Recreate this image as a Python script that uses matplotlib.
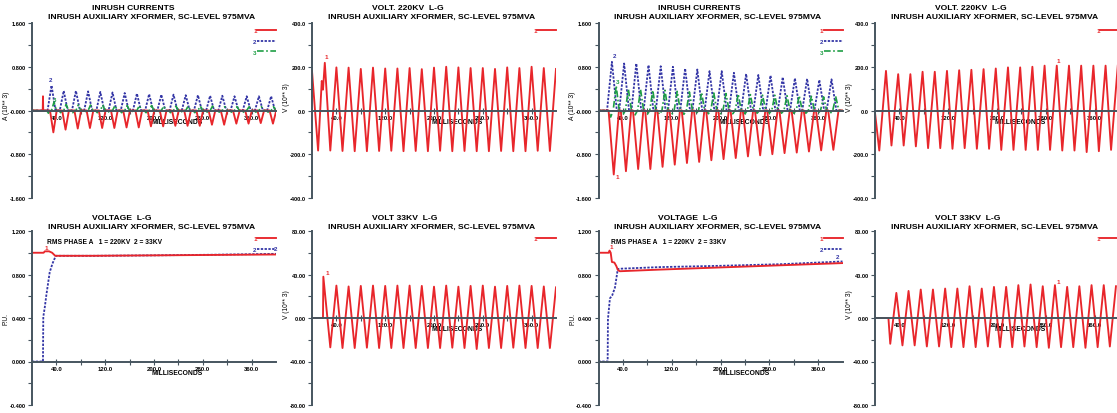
import numpy as np
import matplotlib.pyplot as plt

plt.rcParams['font.family'] = ['Liberation Sans', 'DejaVu Sans']
plt.rcParams['font.weight'] = 'bold'

RED = '#e8262b'
BLUE = '#3436a6'
GREEN = '#1f9e45'
AXC = '#46555f'

# one 50 Hz cycle every 20 ms
cycles = [0, 20, 40, 60, 80, 100, 120, 140, 160, 180,
          200, 220, 240, 260, 280, 300, 320, 340, 360, 380]

# ---- case A: inrush currents (kA), peak per cycle ----
ia_blue_ms = [32 + c for c in cycles[:19]]
ia_blue = [0.46, 0.36, 0.36, 0.35, 0.34, 0.33, 0.32, 0.31, 0.30, 0.29,
           0.29, 0.28, 0.28, 0.27, 0.27, 0.26, 0.26, 0.26, 0.26]
ia_red_ms = [35 + c for c in cycles[:19]]
ia_red = [-0.40, -0.35, -0.33, -0.32, -0.32, -0.32, -0.31, -0.31, -0.29, -0.29,
          -0.28, -0.28, -0.28, -0.26, -0.26, -0.24, -0.24, -0.23, -0.24]
ia_red_spike_ms = [17.6, 18.0, 18.4]
ia_red_spike = [0.0, 0.26, 0.0]
ia_green_ms = [36 + c for c in cycles[:19]]
ia_green = [0.15, 0.11, 0.10, 0.10, 0.10, 0.09, 0.09, 0.09, 0.09, 0.08,
            0.08, 0.08, 0.08, 0.08, 0.07, 0.07, 0.07, 0.07, 0.07]
ia_green_dip_ms = [27 + c for c in cycles[:19]]
ia_green_dip = [-0.05, -0.04, -0.04, -0.04, -0.04, -0.04, -0.04, -0.04, -0.04, -0.04,
                -0.04, -0.04, -0.04, -0.03, -0.03, -0.03, -0.03, -0.03, -0.03]

# ---- case A: 220 kV voltage (kV), extremes ----
va220_first_ms = [0, 16, 18, 21]
va220_first = [180, 135, 95, 218]
va220_pk_ms = [40 + c for c in cycles[:19]]
va220_pk = [197, 196, 190, 196, 192, 192, 194, 189, 196, 200,
            197, 194, 194, 190, 197, 194, 200, 194, 190]
va220_tr_ms = [10 + c for c in cycles]
va220_tr = [-183, -183, -185, -186, -186, -185, -184, -186, -185, -186,
            -184, -186, -185, -186, -186, -185, -186, -186, -184, -185]

# ---- case A: 33 kV voltage (kV) ----
va33_first_ms = [0, 18, 18.6]
va33_first = [0, 0, 38]
va33_pk_ms = [40 + c for c in cycles[:19]]
va33_pk = [29.8, 29.0, 29.5, 29.8, 29.5, 29.8, 29.8, 29.5, 28.8, 29.8,
           28.8, 29.5, 29.8, 28.8, 29.5, 29.8, 29.5, 29.0, 28.2]
va33_tr_ms = [30 + c for c in cycles[:19]]
va33_tr = [-27.0, -27.6, -27.6, -27.3, -27.6, -27.6, -27.6, -27.6, -27.6, -27.6,
           -27.3, -27.6, -28.5, -27.6, -27.6, -27.3, -27.6, -27.6, -27.6]

# ---- case A: RMS phase A (p.u.) ----
ra_220_ms = [0, 19, 21, 28, 33, 38, 100, 200, 300, 400]
ra_220 = [1.0, 1.0, 1.013, 1.013, 1.0, 0.972, 0.972, 0.976, 0.980, 0.984]
ra_33_ms = [0, 18, 18.5, 21, 23.5, 29, 33.5, 39, 100, 200, 300, 400]
ra_33 = [0, 0, 0.41, 0.50, 0.61, 0.82, 0.90, 0.972, 0.972, 0.976, 0.982, 0.99]

# ---- case B: inrush currents (kA) ----
ib_blue_ms = [22 + c for c in cycles[:19]]
ib_blue = [0.89, 0.86, 0.86, 0.83, 0.81, 0.80, 0.77, 0.75, 0.72, 0.72,
           0.69, 0.67, 0.65, 0.64, 0.61, 0.59, 0.58, 0.56, 0.57]
ib_red_ms = [25 + c for c in cycles[:19]]
ib_red = [-1.17, -1.11, -1.07, -1.07, -1.03, -0.99, -0.96, -0.94, -0.91, -0.89,
          -0.87, -0.84, -0.82, -0.80, -0.78, -0.77, -0.75, -0.73, -0.72]
ib_green_ms = [29 + c for c in cycles[:19]]
ib_green = [0.45, 0.39, 0.38, 0.37, 0.37, 0.35, 0.34, 0.33, 0.32, 0.31,
            0.30, 0.29, 0.28, 0.28, 0.27, 0.27, 0.26, 0.25, 0.25]
ib_green_dip_ms = [20 + c for c in cycles[:19]]
ib_green_dip = [-0.12, -0.08, -0.08, -0.07, -0.07, -0.07, -0.07, -0.06, -0.06, -0.06,
                -0.06, -0.06, -0.05, -0.05, -0.05, -0.05, -0.05, -0.05, -0.05]

# ---- case B: 220 kV voltage (kV) ----
vb220_first_ms = [0]
vb220_first = [-10]
vb220_pk_ms = [18 + c for c in cycles]
vb220_pk = [181, 166, 166, 177, 177, 181, 184, 186, 189, 192,
            197, 197, 200, 205, 205, 205, 205, 205, 205, 205]
vb220_tr_ms = [7 + c for c in cycles]
vb220_tr = [-183, -160, -160, -164, -172, -172, -175, -172, -175, -175,
            -180, -180, -180, -180, -180, -183, -183, -190, -186, -180]

# ---- case B: 33 kV voltage (kV) ----
vb33_first_ms = [0, 22]
vb33_first = [0, 0]
vb33_pk_ms = [35 + c for c in cycles[:19]]
vb33_pk = [23.1, 24.9, 26.2, 26.2, 27.1, 27.1, 29.2, 27.1, 28.6, 28.6,
           30.2, 30.8, 29.2, 30.2, 28.6, 29.2, 30.2, 30.2, 29.2]
vb33_tr_ms = [25 + c for c in cycles[:19]]
vb33_tr = [-23.7, -25.2, -25.2, -26.2, -26.2, -26.8, -26.8, -26.8, -26.2, -26.8,
           -26.8, -26.2, -26.8, -27.4, -26.8, -26.8, -27.4, -26.8, -26.2]

# ---- case B: RMS phase A (p.u.) ----
rb_220_ms = [0, 17, 18, 20, 22, 26, 29, 32, 35, 100, 200, 300, 400]
rb_220 = [1.0, 1.0, 1.02, 1.0, 0.915, 0.91, 0.88, 0.84, 0.83, 0.845, 0.865, 0.885, 0.905]
rb_33_ms = [0, 15, 15.5, 18.7, 22.6, 27, 31.6, 35, 100, 200, 300, 400]
rb_33 = [0, 0, 0.39, 0.58, 0.61, 0.68, 0.85, 0.853, 0.868, 0.88, 0.895, 0.92]

SUB = 'INRUSH AUXILIARY XFORMER, SC-LEVEL 975MVA'


def pulses(groups):
    # each pulse: leaves zero, reaches its peak, back to zero
    pts = []
    for ts, vs, w in groups:
        pts += [(tp, a, w) for tp, a in zip(ts, vs)]
    t, v = [0.0], [0.0]
    for tp, a, w in sorted(pts):
        t += [tp - w, tp, tp + w]
        v += [0.0, a, 0.0]
    t.append(400.0)
    v.append(0.0)
    return t, v


def extremes(*pairs):
    pts = sorted(p for ts, vs in pairs for p in zip(ts, vs))
    return [p[0] for p in pts], [p[1] for p in pts]


W, H = 1117, 414
AXW = 244
fig = plt.figure(figsize=(W / 100, H / 100), dpi=100)


def panel(left, top, height, ylim, step, fmt, ylabel, ylab_y, line1):
    ax = fig.add_axes([left / W, 1 - (top + height) / H, AXW / W, height / H])
    ax.patch.set_visible(False)
    ax.set_xlim(0, 400)
    ax.set_ylim(*ylim)
    for s in ['top', 'right']:
        ax.spines[s].set_visible(False)
    ax.spines['bottom'].set_position(('data', 0))
    for s in ['bottom', 'left']:
        ax.spines[s].set_color(AXC)
        ax.spines[s].set_linewidth(1.4)
        ax.spines[s].set_zorder(5)
    xt = list(range(40, 361, 40))
    ax.set_xticks(xt)
    ax.set_xticklabels([f'{x:.1f}' if x % 80 == 40 else '' for x in xt])
    yt = np.arange(ylim[0], ylim[1] + step / 2, step)
    ax.set_yticks(yt)
    ax.set_yticklabels([fmt.format(y + 0.0) if i % 2 == 0 else '' for i, y in enumerate(yt)])
    ax.tick_params(axis='x', direction='inout', length=4.5, width=0.8, color=AXC,
                   pad=0.8, labelsize=4.3)
    ax.tick_params(axis='y', direction='out', length=3, width=0.8, color=AXC,
                   pad=1.5, labelsize=4.1)
    ax.set_ylabel(ylabel, fontsize=4.8)
    ax.yaxis.set_label_coords(-22 / AXW, ylab_y)
    ax.annotate('MILLISECONDS', xy=(238, 0), xytext=(0, -7.8), textcoords='offset points',
                ha='center', va='center', fontsize=4.9)
    dy = 15.7 if top < 100 else 13.7
    ax.annotate(line1, xy=(0, 1), xycoords='axes fraction', xytext=(60 * 0.72, dy * 0.72),
                textcoords='offset points', ha='left', va='center', fontsize=6.1)
    ax.annotate(SUB, xy=(0, 1), xycoords='axes fraction', xytext=(16 * 0.72, (dy - 9) * 0.72),
                textcoords='offset points', ha='left', va='center', fontsize=6.1)
    return ax


def legend(ax, handles, labels):
    ax.legend(handles, labels, loc='upper right', bbox_to_anchor=(1.0, 0.972), frameon=False,
              markerfirst=False, fontsize=4.5, handlelength=3.0, handletextpad=0.1,
              labelspacing=0.85, borderpad=0, borderaxespad=0, labelcolor='linecolor')


def lbl(ax, x, y, s, c):
    ax.text(x, y, s, color=c, fontsize=4.5, ha='center', va='center')


red_kw = dict(color=RED, lw=1.35, zorder=4, solid_joinstyle='round')
blue_kw = dict(color=BLUE, lw=1.3, ls=(0, (1.3, 0.8)), zorder=3)
green_kw = dict(color=GREEN, lw=1.2, ls=(0, (4, 1.5, 1, 1.5)), zorder=3)

cols = [32, 312, 598.5, 875]
TOP1, H1 = 24, 175
TOP2, H2 = 232, 174

# column 1 top: currents case A
ax = panel(cols[0], TOP1, H1, (-1.6, 1.6), 0.4, '{:.3f}', 'A (10** 3)', 0.53, 'INRUSH CURRENTS')
t, v = pulses([(ia_red_ms, ia_red, 5.5)])
r, = ax.plot([0.0] + ia_red_spike_ms + t[1:], [0.0] + ia_red_spike + v[1:], **red_kw)
b, = ax.plot(*pulses([(ia_blue_ms, ia_blue, 6.5)]), **blue_kw)
g, = ax.plot(*pulses([(ia_green_ms, ia_green, 4), (ia_green_dip_ms, ia_green_dip, 3)]), **green_kw)
legend(ax, [r, b, g], ['1', '2', '3'])
lbl(ax, 31, 0.57, '2', BLUE)
lbl(ax, 37, 0.2, '3', GREEN)

# column 2 top: 220 kV case A
ax = panel(cols[1], TOP1, H1, (-400, 400), 100, '{:.1f}', 'V (10** 3)', 0.58, 'VOLT. 220KV  L-G')
r, = ax.plot(*extremes((va220_first_ms, va220_first), (va220_pk_ms, va220_pk),
                       (va220_tr_ms, va220_tr)), **red_kw)
legend(ax, [r], ['1'])
lbl(ax, 24, 245, '1', RED)

# column 1 bottom: RMS case A
ax = panel(cols[0], TOP2, H2, (-0.4, 1.2), 0.2, '{:.3f}', 'P.U.', 0.5, 'VOLTAGE  L-G')
r, = ax.plot(ra_220_ms, ra_220, **red_kw)
b, = ax.plot(ra_33_ms, ra_33, **blue_kw)
legend(ax, [r, b], ['1', '2'])
lbl(ax, 24, 1.05, '1', RED)
lbl(ax, 399, 1.04, '2', BLUE)
ax.text(24, 1.108, 'RMS PHASE A   1 = 220KV  2 = 33KV', fontsize=4.8, va='center')

# column 2 bottom: 33 kV case A
ax = panel(cols[1], TOP2, H2, (-80, 80), 20, '{:.2f}', 'V (10** 3)', 0.58, 'VOLT 33KV  L-G')
r, = ax.plot(*extremes((va33_first_ms, va33_first), (va33_pk_ms, va33_pk),
                       (va33_tr_ms, va33_tr)), **red_kw)
legend(ax, [r], ['1'])
lbl(ax, 25, 42, '1', RED)

# column 3 top: currents case B
ax = panel(cols[2], TOP1, H1, (-1.6, 1.6), 0.4, '{:.3f}', 'A (10** 3)', 0.53, 'INRUSH CURRENTS')
r, = ax.plot(*pulses([(ib_red_ms, ib_red, 8.5)]), **red_kw)
b, = ax.plot(*pulses([(ib_blue_ms, ib_blue, 8)]), **blue_kw)
g, = ax.plot(*pulses([(ib_green_ms, ib_green, 5), (ib_green_dip_ms, ib_green_dip, 4)]), **green_kw)
legend(ax, [r, b, g], ['1', '2', '3'])
lbl(ax, 26, 1.0, '2', BLUE)
lbl(ax, 31, 0.53, '3', GREEN)
lbl(ax, 31, -1.2, '1', RED)

# column 4 top: 220 kV case B
ax = panel(cols[3], TOP1, H1, (-400, 400), 100, '{:.1f}', 'V (10** 3)', 0.58, 'VOLT. 220KV  L-G')
r, = ax.plot(*extremes((vb220_first_ms, vb220_first), (vb220_pk_ms, vb220_pk),
                       (vb220_tr_ms, vb220_tr)), **red_kw)
legend(ax, [r], ['1'])
lbl(ax, 300, 227, '1', RED)

# column 3 bottom: RMS case B
ax = panel(cols[2], TOP2, H2, (-0.4, 1.2), 0.2, '{:.3f}', 'P.U.', 0.5, 'VOLTAGE  L-G')
r, = ax.plot(rb_220_ms, rb_220, **red_kw)
b, = ax.plot(rb_33_ms, rb_33, **blue_kw)
legend(ax, [r, b], ['1', '2'])
lbl(ax, 21, 1.06, '1', RED)
lbl(ax, 392, 0.97, '2', BLUE)
ax.text(21, 1.108, 'RMS PHASE A   1 = 220KV  2 = 33KV', fontsize=4.8, va='center')

# column 4 bottom: 33 kV case B
ax = panel(cols[3], TOP2, H2, (-80, 80), 20, '{:.2f}', 'V (10** 3)', 0.58, 'VOLT 33KV  L-G')
r, = ax.plot(*extremes((vb33_first_ms, vb33_first), (vb33_pk_ms, vb33_pk),
                       (vb33_tr_ms, vb33_tr)), **red_kw)
legend(ax, [r], ['1'])
lbl(ax, 300, 34, '1', RED)

fig.savefig('out.png', dpi=100)
